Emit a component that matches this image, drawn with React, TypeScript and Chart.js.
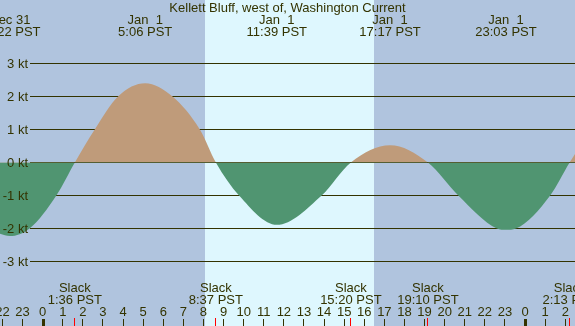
import React, { useEffect, useRef } from "react";
import { Chart, registerables } from "chart.js";

Chart.register(...registerables);

// ---- data (hours relative to Jan 1 00:00 PST, knots) ----
const curveHours = [-2.5, -2.123, -1.633, -0.65, 0.68, 1.6, 2.59, 3.75, 5.1, 6.46, 7.82, 8.617, 9.77, 11.65, 13.88, 15.333, 17.283, 19.167, 20.68, 22.6, 23.05, 23.55, 25.25, 26.217, 26.8];
const curveKnots = [-2.08, -2.16, -2.23, -2.0, -1.0, 0, 1.0, 2.0, 2.4, 2.0, 1.0, 0, -1.0, -1.89, -1.0, 0, 0.52, 0, -1.0, -2.0, -2.04, -2.0, -1.0, 0, 0.55];

const extremeHours = [-1.633, 5.1, 11.65, 17.283, 23.05];
const extremeDates = ["Dec 31", "Jan  1", "Jan  1", "Jan  1", "Jan  1"];
const extremeTimes = ["22:22 PST", "5:06 PST", "11:39 PST", "17:17 PST", "23:03 PST"];

const slackHours = [1.6, 8.617, 15.333, 19.167, 26.217];
const slackTimes = ["1:36 PST", "8:37 PST", "15:20 PST", "19:10 PST", "2:13 PST"];

const sunriseHour = 8.076;
const sunsetHour = 16.48;

const knotTicks = [3, 2, 1, 0, -1, -2, -3];
const hourTicks = [-2, -1, 0, 1, 2, 3, 4, 5, 6, 7, 8, 9, 10, 11, 12, 13, 14, 15, 16, 17, 18, 19, 20, 21, 22, 23, 24, 25, 26];

const title = "Kellett Bluff, west of, Washington Current";

// ---- styles ----
const NIGHT = "#B0C4DE";
const DAY = "#DEF7FE";
const FLOOD = "#BF9B7A";
const EBB = "#509571";
const INK = "#333300";
const RED = "#FF0000";
const FONT = '13px "Liberation Sans", Arial, sans-serif';

export default function App() {
  const ref = useRef<HTMLCanvasElement | null>(null);

  useEffect(() => {
    const canvas = ref.current;
    if (!canvas) return;

    const decor = {
      id: "decor",
      beforeDraw(chart: any) {
        const { ctx, scales } = chart;
        const xs = scales.x;
        const W = chart.width;
        const H = chart.height;
        ctx.save();
        ctx.fillStyle = NIGHT;
        ctx.fillRect(0, 0, W, H);
        const x0 = Math.round(xs.getPixelForValue(sunriseHour));
        const x1 = Math.round(xs.getPixelForValue(sunsetHour));
        ctx.fillStyle = DAY;
        ctx.fillRect(x0, 0, x1 - x0, H);
        ctx.restore();
      },
      beforeDatasetsDraw(chart: any) {
        const { ctx, scales } = chart;
        const ys = scales.y;
        const W = chart.width;
        ctx.save();
        ctx.fillStyle = INK;
        knotTicks.forEach((k) => {
          const y = Math.floor(ys.getPixelForValue(k));
          ctx.fillRect(30, y, W - 30, 1);
        });
        ctx.restore();
      },
      afterDatasetsDraw(chart: any) {
        const { ctx, scales } = chart;
        const xs = scales.x;
        const ys = scales.y;
        const W = chart.width;
        ctx.save();
        ctx.font = FONT;
        ctx.fillStyle = INK;
        ctx.textBaseline = "alphabetic";

        // y labels
        ctx.textAlign = "right";
        knotTicks.forEach((k) => {
          const y = Math.floor(ys.getPixelForValue(k));
          ctx.fillText(`${k} kt`, 28, y + 5);
        });

        // title
        ctx.textAlign = "center";
        ctx.fillText(title, W / 2, 12);

        // extremes at top
        extremeHours.forEach((h, i) => {
          const x = xs.getPixelForValue(h);
          ctx.fillText(extremeDates[i], x, 24);
          ctx.fillText(extremeTimes[i], x, 36);
        });

        // slacks at bottom
        slackHours.forEach((h, i) => {
          const x = xs.getPixelForValue(h);
          ctx.fillText("Slack", x, 292);
          ctx.fillText(slackTimes[i], x, 304);
        });

        // hour ticks
        hourTicks.forEach((h) => {
          const x = xs.getPixelForValue(h);
          const label = String(((h % 24) + 24) % 24);
          ctx.fillStyle = INK;
          ctx.fillText(label, x, 316);
          if (label === "0") {
            ctx.fillRect(Math.round(x) - 1, 319, 3, 7);
          } else {
            ctx.fillRect(Math.floor(x), 319, 1, 7);
          }
        });

        // slack red ticks
        ctx.fillStyle = RED;
        slackHours.forEach((h) => {
          const x = xs.getPixelForValue(h);
          ctx.fillRect(Math.floor(x), 318, 1, 8);
        });
        ctx.restore();
      },
    };

    const chart = new Chart(canvas, {
      type: "line",
      data: {
        datasets: [
          {
            data: curveHours.map((h, i) => ({ x: h, y: curveKnots[i] })),
            borderColor: "rgba(0,0,0,0)",
            borderWidth: 0,
            pointRadius: 0,
            cubicInterpolationMode: "monotone",
            fill: { target: "origin", above: FLOOD, below: EBB },
          } as any,
        ],
      },
      options: {
        animation: false,
        responsive: false,
        devicePixelRatio: 1,
        layout: { padding: 0 },
        events: [],
        plugins: { legend: { display: false }, tooltip: { enabled: false }, title: { display: false } },
        scales: {
          x: { type: "linear", min: -2.123, max: 26.485, display: false },
          y: { type: "linear", min: -4.955, max: 4.924, display: false },
        },
      },
      plugins: [decor],
    });

    return () => chart.destroy();
  }, []);

  return (
    <div style={{ position: "absolute", left: 0, top: 0, width: 575, height: 326 }}>
      <canvas ref={ref} width={575} height={326} style={{ display: "block", width: 575, height: 326 }} />
    </div>
  );
}
